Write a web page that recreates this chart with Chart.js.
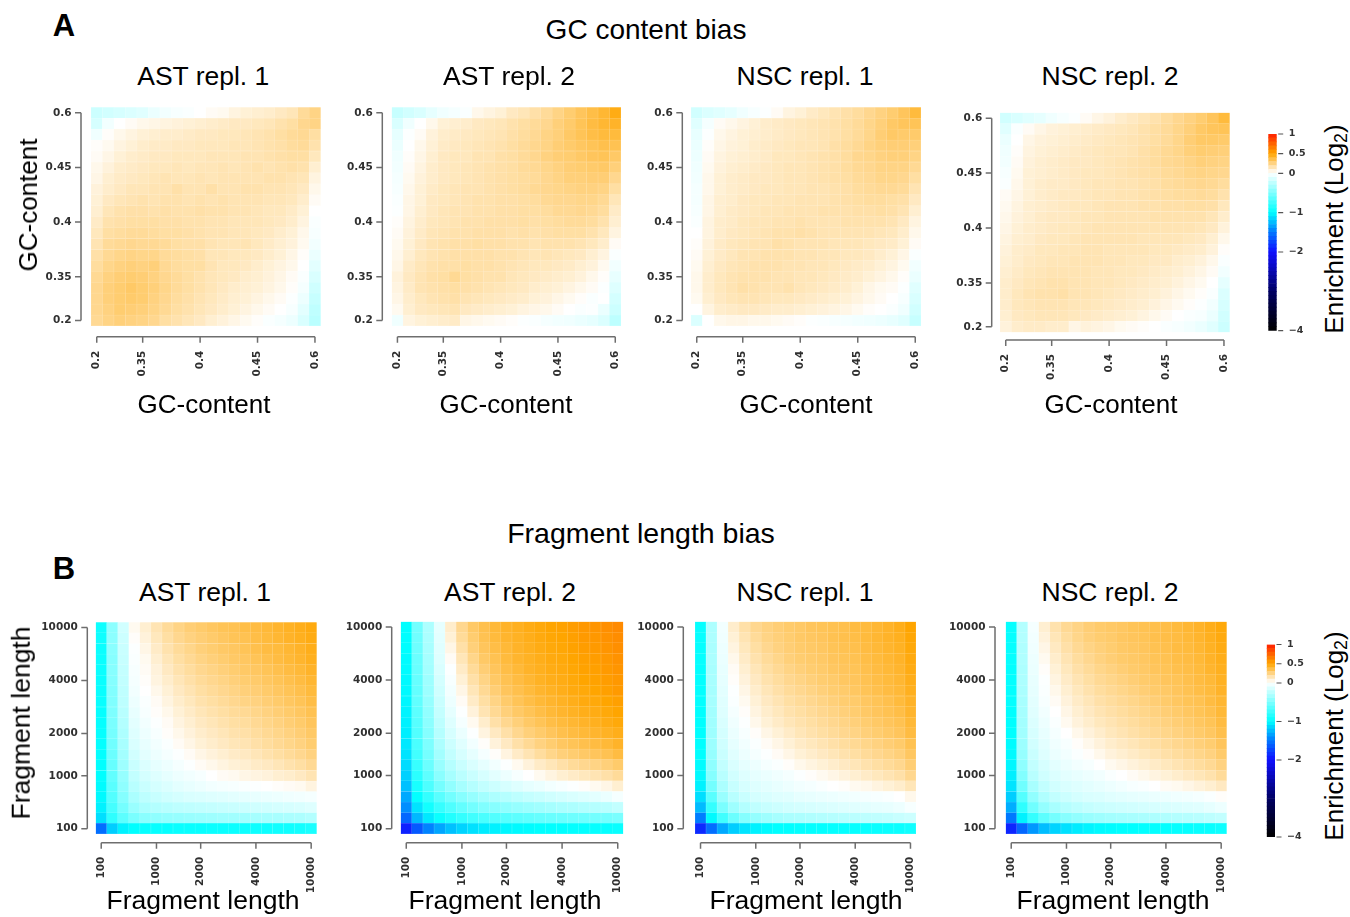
<!DOCTYPE html>
<html><head><meta charset="utf-8">
<script src="https://cdn.jsdelivr.net/npm/chart.js@4.4.1/dist/chart.umd.min.js"></script>
<style>
html,body{margin:0;padding:0;background:#fff;}
#fig{position:relative;width:1350px;height:917px;overflow:hidden;font-family:"Liberation Sans",Arial,Helvetica,sans-serif;color:#000;}
.t{position:absolute;white-space:nowrap;line-height:1;}
.t sub{font-size:68%;vertical-align:-0.25em;line-height:0;}
canvas{position:absolute;}
</style></head><body><div id="fig"></div>
<script>
// ---------------- text ----------------
const sectionTitles = ['GC content bias', 'Fragment length bias'];
const sectionLetters = ['A', 'B'];
const panelTitles = ['AST repl. 1', 'AST repl. 2', 'NSC repl. 1', 'NSC repl. 2'];
const gcAxisTitle = 'GC-content';
const fragAxisTitle = 'Fragment length';
const colorbarTitle = 'Enrichment (Log<sub>2</sub>)';

// ---------------- axes / bins ----------------
const binIndex = [0,1,2,3,4,5,6,7,8,9,10,11,12,13,14,15,16,17,18,19];
const gcTickBins = [0,4,9,14,19];
const gcTickLabels = ['0.2','0.35','0.4','0.45','0.6'];
const fragTickBins = [0,5,9,14,19];
const fragTickLabels = ['100','1000','2000','4000','10000'];
const colorbarTickValues = [-4,-2,-1,0,0.5,1];
const colorbarTickLabels = ['\u22124','\u22122','\u22121','0','0.5','1'];

// ---------------- data: log2 enrichment, rows listed top (highest bin) to bottom ----------------
const gcAst1 = [
[-0.20,-0.18,-0.16,-0.14,-0.12,-0.08,-0.05,-0.03,-0.02,0.00,0.02,0.03,0.06,0.08,0.09,0.10,0.12,0.14,0.20,0.24],
[-0.16,-0.05,0.00,0.02,0.04,0.05,0.06,0.07,0.08,0.09,0.10,0.11,0.12,0.12,0.13,0.14,0.16,0.18,0.22,0.24],
[-0.06,0.01,0.04,0.06,0.08,0.09,0.10,0.10,0.11,0.12,0.12,0.13,0.13,0.14,0.15,0.16,0.18,0.20,0.21,0.18],
[0.01,0.03,0.06,0.08,0.10,0.11,0.11,0.12,0.12,0.13,0.13,0.13,0.14,0.14,0.15,0.16,0.17,0.19,0.20,0.16],
[0.02,0.05,0.08,0.10,0.11,0.12,0.12,0.13,0.13,0.13,0.14,0.14,0.14,0.15,0.15,0.16,0.17,0.18,0.18,0.13],
[0.04,0.07,0.10,0.11,0.12,0.13,0.13,0.14,0.13,0.14,0.14,0.15,0.14,0.15,0.16,0.15,0.16,0.17,0.16,0.09],
[0.05,0.09,0.11,0.12,0.13,0.14,0.15,0.14,0.14,0.15,0.14,0.15,0.15,0.15,0.15,0.16,0.16,0.15,0.14,0.06],
[0.07,0.10,0.12,0.14,0.14,0.15,0.15,0.17,0.15,0.15,0.17,0.15,0.15,0.16,0.16,0.15,0.15,0.14,0.12,0.04],
[0.08,0.12,0.14,0.15,0.16,0.15,0.16,0.16,0.15,0.16,0.15,0.16,0.15,0.15,0.15,0.14,0.14,0.13,0.10,0.02],
[0.09,0.14,0.16,0.17,0.17,0.16,0.17,0.16,0.16,0.17,0.16,0.16,0.15,0.15,0.14,0.13,0.13,0.11,0.08,0.00],
[0.11,0.16,0.17,0.18,0.18,0.18,0.17,0.17,0.16,0.16,0.15,0.15,0.14,0.14,0.14,0.13,0.12,0.10,0.06,-0.02],
[0.13,0.18,0.19,0.20,0.20,0.19,0.18,0.18,0.17,0.16,0.15,0.15,0.14,0.14,0.13,0.12,0.10,0.08,0.04,-0.03],
[0.15,0.20,0.21,0.22,0.21,0.21,0.20,0.18,0.17,0.17,0.15,0.14,0.14,0.15,0.13,0.11,0.09,0.07,0.03,-0.05],
[0.17,0.21,0.23,0.24,0.23,0.23,0.20,0.19,0.18,0.17,0.14,0.14,0.13,0.13,0.12,0.10,0.08,0.05,0.01,-0.08],
[0.19,0.23,0.25,0.26,0.25,0.26,0.21,0.19,0.18,0.18,0.15,0.13,0.13,0.12,0.10,0.08,0.06,0.04,0.00,-0.11],
[0.21,0.25,0.27,0.28,0.27,0.25,0.22,0.20,0.18,0.16,0.14,0.13,0.12,0.10,0.09,0.07,0.05,0.02,-0.02,-0.15],
[0.22,0.26,0.28,0.30,0.28,0.26,0.23,0.20,0.18,0.16,0.14,0.12,0.10,0.09,0.08,0.06,0.04,0.01,-0.04,-0.19],
[0.22,0.26,0.28,0.29,0.28,0.25,0.22,0.19,0.17,0.15,0.13,0.11,0.09,0.08,0.06,0.04,0.02,-0.01,-0.07,-0.22],
[0.22,0.25,0.28,0.27,0.26,0.24,0.21,0.18,0.16,0.14,0.12,0.10,0.08,0.06,0.04,0.02,0.00,-0.03,-0.11,-0.25],
[0.21,0.24,0.26,0.25,0.24,0.22,0.18,0.16,0.14,0.12,0.09,0.07,0.05,0.03,0.01,-0.02,-0.04,-0.07,-0.15,-0.27]
];
const gcAst2 = [
[-0.22,-0.18,-0.15,-0.10,-0.06,-0.04,-0.02,0.04,0.06,0.08,0.12,0.14,0.17,0.20,0.24,0.28,0.32,0.36,0.40,0.46],
[-0.15,-0.06,0.00,0.04,0.08,0.09,0.10,0.12,0.13,0.14,0.16,0.18,0.20,0.22,0.26,0.29,0.33,0.37,0.40,0.42],
[-0.10,-0.01,0.02,0.07,0.10,0.11,0.12,0.13,0.14,0.15,0.17,0.19,0.21,0.24,0.26,0.30,0.33,0.36,0.38,0.38],
[-0.08,0.00,0.04,0.08,0.11,0.12,0.13,0.14,0.15,0.16,0.18,0.20,0.22,0.24,0.27,0.29,0.31,0.33,0.35,0.34],
[-0.06,0.01,0.05,0.09,0.12,0.13,0.13,0.15,0.15,0.17,0.18,0.20,0.22,0.25,0.27,0.28,0.30,0.32,0.33,0.30],
[-0.05,0.02,0.06,0.10,0.12,0.13,0.14,0.15,0.16,0.17,0.18,0.20,0.21,0.23,0.25,0.27,0.28,0.29,0.30,0.26],
[-0.04,0.03,0.07,0.10,0.12,0.13,0.14,0.15,0.16,0.17,0.18,0.19,0.20,0.22,0.24,0.26,0.26,0.27,0.27,0.22],
[-0.03,0.04,0.08,0.11,0.13,0.14,0.15,0.15,0.16,0.17,0.18,0.19,0.21,0.22,0.23,0.24,0.25,0.25,0.24,0.18],
[-0.02,0.05,0.08,0.12,0.13,0.14,0.15,0.16,0.16,0.17,0.17,0.18,0.19,0.21,0.22,0.22,0.23,0.23,0.21,0.14],
[-0.01,0.05,0.09,0.12,0.14,0.15,0.15,0.16,0.16,0.17,0.17,0.18,0.18,0.19,0.21,0.21,0.22,0.21,0.19,0.11],
[0.01,0.06,0.10,0.13,0.14,0.15,0.16,0.16,0.17,0.17,0.17,0.18,0.17,0.18,0.19,0.20,0.20,0.19,0.16,0.09],
[0.02,0.07,0.11,0.14,0.15,0.16,0.16,0.17,0.17,0.17,0.16,0.17,0.16,0.17,0.18,0.18,0.18,0.16,0.13,0.06],
[0.03,0.08,0.12,0.15,0.16,0.17,0.17,0.18,0.17,0.17,0.16,0.16,0.15,0.16,0.16,0.16,0.15,0.13,0.10,0.02],
[0.04,0.09,0.13,0.15,0.16,0.17,0.17,0.17,0.17,0.16,0.16,0.15,0.14,0.15,0.14,0.13,0.12,0.09,0.06,-0.02],
[0.05,0.11,0.14,0.16,0.17,0.17,0.18,0.17,0.17,0.16,0.15,0.14,0.13,0.13,0.12,0.11,0.09,0.07,0.03,-0.05],
[0.07,0.12,0.15,0.17,0.18,0.21,0.18,0.17,0.16,0.16,0.14,0.13,0.12,0.11,0.10,0.09,0.07,0.04,0.01,-0.09],
[0.06,0.11,0.15,0.16,0.17,0.18,0.17,0.16,0.15,0.14,0.13,0.12,0.10,0.09,0.08,0.06,0.04,0.02,-0.01,-0.13],
[0.05,0.10,0.13,0.15,0.16,0.17,0.15,0.14,0.13,0.12,0.11,0.10,0.08,0.07,0.05,0.03,0.01,-0.02,0.00,-0.17],
[0.03,0.09,0.12,0.13,0.14,0.15,0.12,0.11,0.10,0.09,0.08,0.06,0.05,0.04,0.02,0.00,-0.02,-0.01,-0.08,-0.20],
[-0.06,0.06,0.08,0.09,0.10,0.11,0.05,0.04,0.03,0.02,0.01,-0.01,-0.02,-0.04,-0.05,-0.06,-0.08,-0.10,-0.14,-0.26]
];
const gcNsc1 = [
[-0.18,-0.14,-0.12,-0.10,-0.06,-0.03,-0.01,0.02,0.06,0.08,0.11,0.13,0.15,0.17,0.19,0.22,0.25,0.28,0.32,0.38],
[-0.12,-0.04,0.02,0.04,0.06,0.08,0.10,0.11,0.12,0.13,0.14,0.15,0.16,0.18,0.20,0.23,0.26,0.30,0.32,0.33],
[-0.09,-0.01,0.04,0.06,0.08,0.09,0.10,0.11,0.12,0.13,0.14,0.15,0.16,0.18,0.20,0.23,0.27,0.30,0.29,0.29],
[-0.08,0.01,0.05,0.07,0.08,0.10,0.11,0.12,0.13,0.14,0.14,0.15,0.17,0.19,0.21,0.24,0.26,0.27,0.27,0.26],
[-0.07,0.02,0.06,0.08,0.09,0.10,0.11,0.13,0.13,0.14,0.15,0.16,0.17,0.19,0.22,0.23,0.25,0.26,0.26,0.24],
[-0.06,0.03,0.07,0.09,0.10,0.11,0.12,0.13,0.14,0.14,0.15,0.16,0.17,0.19,0.21,0.22,0.24,0.24,0.24,0.21],
[-0.05,0.04,0.08,0.10,0.11,0.12,0.12,0.13,0.14,0.14,0.15,0.16,0.17,0.18,0.20,0.21,0.23,0.23,0.22,0.18],
[-0.04,0.04,0.08,0.10,0.11,0.12,0.13,0.13,0.14,0.14,0.15,0.15,0.16,0.17,0.19,0.20,0.21,0.21,0.20,0.15],
[-0.04,0.05,0.09,0.10,0.12,0.13,0.13,0.14,0.14,0.15,0.15,0.15,0.16,0.17,0.18,0.19,0.19,0.18,0.17,0.12],
[-0.03,0.05,0.09,0.11,0.12,0.13,0.14,0.14,0.15,0.15,0.15,0.16,0.16,0.16,0.17,0.17,0.18,0.17,0.15,0.09],
[-0.02,0.06,0.10,0.11,0.13,0.14,0.14,0.15,0.15,0.16,0.15,0.15,0.15,0.16,0.16,0.16,0.16,0.15,0.12,0.06],
[0.00,0.06,0.10,0.12,0.13,0.14,0.15,0.16,0.16,0.17,0.16,0.15,0.15,0.15,0.15,0.15,0.14,0.13,0.10,0.04],
[0.01,0.07,0.11,0.13,0.14,0.15,0.15,0.17,0.16,0.15,0.15,0.15,0.14,0.14,0.14,0.13,0.12,0.11,0.08,0.02],
[0.02,0.08,0.11,0.13,0.15,0.15,0.16,0.16,0.16,0.15,0.15,0.14,0.14,0.13,0.13,0.12,0.10,0.08,0.05,-0.02],
[0.03,0.09,0.12,0.14,0.15,0.16,0.16,0.16,0.15,0.15,0.14,0.14,0.13,0.12,0.11,0.10,0.08,0.06,0.03,-0.05],
[0.04,0.10,0.13,0.15,0.16,0.16,0.16,0.15,0.15,0.14,0.14,0.13,0.12,0.11,0.10,0.08,0.06,0.04,0.01,-0.08],
[0.04,0.10,0.13,0.15,0.17,0.16,0.15,0.15,0.16,0.14,0.13,0.12,0.11,0.10,0.08,0.05,0.03,0.02,-0.01,-0.12],
[0.03,0.09,0.12,0.14,0.15,0.15,0.14,0.13,0.13,0.12,0.11,0.10,0.09,0.08,0.06,0.04,0.02,0.00,-0.03,-0.15],
[0.00,0.06,0.10,0.11,0.12,0.12,0.11,0.10,0.10,0.09,0.08,0.07,0.06,0.05,0.03,0.01,0.00,-0.02,-0.06,-0.18],
[-0.14,0.00,0.04,0.05,0.05,0.04,0.04,0.03,0.02,0.01,-0.01,-0.02,-0.03,-0.04,-0.05,-0.06,-0.07,-0.09,-0.12,-0.22]
];
const gcNsc2 = [
[-0.18,-0.15,-0.12,-0.10,-0.06,-0.03,-0.01,0.02,0.05,0.07,0.10,0.12,0.14,0.16,0.19,0.22,0.25,0.28,0.32,0.38],
[-0.12,-0.02,0.02,0.05,0.07,0.08,0.09,0.10,0.11,0.12,0.13,0.14,0.16,0.18,0.20,0.23,0.26,0.30,0.32,0.33],
[-0.08,0.00,0.05,0.07,0.08,0.09,0.10,0.11,0.12,0.13,0.14,0.15,0.16,0.18,0.20,0.23,0.27,0.30,0.30,0.29],
[-0.06,0.01,0.06,0.08,0.09,0.10,0.11,0.12,0.13,0.14,0.14,0.15,0.17,0.19,0.21,0.23,0.26,0.28,0.27,0.26],
[-0.05,0.02,0.07,0.09,0.10,0.11,0.12,0.12,0.13,0.14,0.15,0.16,0.17,0.19,0.21,0.22,0.24,0.26,0.25,0.24],
[-0.03,0.03,0.08,0.09,0.10,0.11,0.12,0.13,0.13,0.14,0.15,0.16,0.17,0.18,0.20,0.21,0.23,0.24,0.23,0.22],
[-0.02,0.04,0.08,0.10,0.11,0.11,0.12,0.13,0.14,0.14,0.15,0.15,0.16,0.17,0.19,0.20,0.21,0.22,0.21,0.19],
[0.02,0.05,0.08,0.10,0.11,0.12,0.12,0.13,0.14,0.14,0.15,0.15,0.16,0.17,0.18,0.19,0.19,0.20,0.19,0.16],
[0.03,0.06,0.09,0.10,0.11,0.12,0.13,0.13,0.14,0.15,0.15,0.15,0.16,0.16,0.17,0.17,0.18,0.18,0.17,0.13],
[0.04,0.07,0.09,0.11,0.12,0.12,0.13,0.14,0.14,0.15,0.15,0.15,0.15,0.16,0.16,0.16,0.16,0.16,0.14,0.10],
[0.05,0.08,0.10,0.11,0.12,0.13,0.13,0.14,0.15,0.15,0.15,0.15,0.15,0.15,0.15,0.15,0.15,0.14,0.12,0.07],
[0.06,0.09,0.10,0.12,0.13,0.13,0.14,0.15,0.15,0.15,0.15,0.15,0.14,0.14,0.14,0.14,0.13,0.12,0.09,0.04],
[0.07,0.10,0.11,0.13,0.13,0.14,0.14,0.15,0.15,0.14,0.14,0.14,0.14,0.13,0.13,0.12,0.11,0.10,0.07,0.01],
[0.08,0.10,0.12,0.13,0.14,0.14,0.15,0.15,0.15,0.14,0.14,0.13,0.13,0.12,0.12,0.10,0.09,0.07,0.04,-0.02],
[0.09,0.11,0.13,0.14,0.15,0.15,0.15,0.15,0.14,0.14,0.13,0.13,0.12,0.11,0.10,0.09,0.07,0.05,0.02,-0.05],
[0.10,0.12,0.14,0.15,0.16,0.16,0.15,0.15,0.14,0.14,0.13,0.12,0.11,0.10,0.09,0.07,0.05,0.03,0.00,-0.10],
[0.10,0.13,0.15,0.16,0.16,0.17,0.15,0.15,0.14,0.13,0.12,0.11,0.10,0.09,0.07,0.05,0.03,0.01,-0.02,-0.14],
[0.10,0.13,0.14,0.15,0.15,0.15,0.14,0.14,0.13,0.12,0.11,0.10,0.09,0.07,0.05,0.03,0.01,-0.01,-0.05,-0.16],
[0.09,0.12,0.13,0.14,0.14,0.14,0.13,0.12,0.11,0.10,0.09,0.08,0.06,0.04,0.02,0.00,-0.02,-0.03,-0.08,-0.18],
[0.07,0.10,0.11,0.11,0.10,0.10,0.05,0.07,0.06,0.05,0.03,0.02,0.01,0.00,-0.02,-0.03,-0.05,-0.08,-0.12,-0.20]
];
const fragAst1 = [
[-0.95,-0.45,-0.18,0.03,0.09,0.15,0.20,0.24,0.27,0.29,0.31,0.33,0.34,0.36,0.37,0.39,0.41,0.43,0.45,0.47],
[-0.95,-0.45,-0.20,0.01,0.07,0.13,0.18,0.22,0.25,0.27,0.29,0.31,0.33,0.34,0.36,0.38,0.40,0.42,0.44,0.46],
[-0.96,-0.46,-0.21,-0.01,0.05,0.11,0.16,0.20,0.23,0.26,0.28,0.30,0.31,0.33,0.35,0.37,0.38,0.40,0.42,0.45],
[-0.96,-0.47,-0.22,-0.02,0.03,0.09,0.14,0.18,0.21,0.24,0.26,0.28,0.30,0.31,0.33,0.35,0.37,0.39,0.41,0.44],
[-0.96,-0.47,-0.23,-0.03,0.02,0.07,0.12,0.16,0.19,0.22,0.24,0.26,0.28,0.30,0.31,0.33,0.35,0.37,0.39,0.42],
[-0.97,-0.48,-0.24,-0.04,0.01,0.06,0.10,0.14,0.17,0.20,0.22,0.24,0.26,0.28,0.29,0.31,0.33,0.35,0.37,0.40],
[-0.97,-0.49,-0.25,-0.05,0.00,0.04,0.08,0.12,0.15,0.18,0.20,0.22,0.24,0.26,0.27,0.29,0.31,0.33,0.35,0.38],
[-0.97,-0.50,-0.26,-0.07,-0.02,0.02,0.06,0.10,0.13,0.16,0.18,0.20,0.22,0.24,0.25,0.27,0.29,0.31,0.33,0.36],
[-0.98,-0.51,-0.28,-0.09,-0.03,0.01,0.04,0.08,0.11,0.14,0.16,0.18,0.20,0.21,0.23,0.25,0.27,0.29,0.31,0.34],
[-0.98,-0.52,-0.30,-0.11,-0.05,-0.01,0.02,0.06,0.09,0.12,0.14,0.16,0.18,0.19,0.21,0.23,0.25,0.27,0.29,0.32],
[-0.98,-0.54,-0.32,-0.13,-0.07,-0.03,0.01,0.04,0.07,0.10,0.12,0.14,0.16,0.17,0.19,0.21,0.23,0.25,0.27,0.30],
[-0.99,-0.56,-0.34,-0.15,-0.09,-0.05,-0.02,0.02,0.05,0.08,0.10,0.12,0.14,0.15,0.17,0.19,0.21,0.23,0.25,0.28],
[-0.99,-0.58,-0.36,-0.18,-0.11,-0.07,-0.04,-0.01,0.02,0.05,0.07,0.09,0.11,0.12,0.14,0.16,0.18,0.20,0.22,0.25],
[-1.00,-0.60,-0.38,-0.21,-0.14,-0.10,-0.07,-0.04,-0.01,0.02,0.04,0.06,0.08,0.09,0.11,0.12,0.14,0.16,0.18,0.21],
[-1.00,-0.62,-0.41,-0.24,-0.17,-0.13,-0.10,-0.07,-0.05,-0.03,0.00,0.02,0.03,0.05,0.06,0.07,0.09,0.10,0.12,0.15],
[-1.01,-0.65,-0.44,-0.28,-0.21,-0.17,-0.14,-0.11,-0.09,-0.07,-0.05,-0.04,-0.03,-0.02,-0.01,0.00,0.01,0.02,0.03,0.06],
[-1.02,-0.68,-0.48,-0.33,-0.26,-0.22,-0.19,-0.17,-0.15,-0.14,-0.13,-0.12,-0.11,-0.10,-0.09,-0.08,-0.07,-0.06,-0.05,-0.04],
[-1.05,-0.73,-0.54,-0.40,-0.33,-0.30,-0.28,-0.26,-0.25,-0.24,-0.23,-0.22,-0.21,-0.20,-0.19,-0.18,-0.17,-0.16,-0.15,-0.13],
[-1.12,-0.82,-0.64,-0.52,-0.46,-0.44,-0.42,-0.41,-0.40,-0.39,-0.38,-0.37,-0.37,-0.36,-0.35,-0.34,-0.34,-0.33,-0.32,-0.30],
[-1.55,-1.18,-1.05,-1.00,-0.98,-0.98,-0.98,-0.97,-0.97,-0.97,-0.96,-0.96,-0.96,-0.95,-0.95,-0.95,-0.94,-0.94,-0.93,-0.90]
];
const fragAst2 = [
[-1.00,-0.55,-0.32,-0.10,0.10,0.22,0.30,0.35,0.39,0.42,0.44,0.46,0.48,0.50,0.51,0.53,0.55,0.56,0.58,0.60],
[-1.00,-0.56,-0.33,-0.11,0.08,0.20,0.28,0.34,0.38,0.41,0.43,0.45,0.47,0.49,0.50,0.52,0.54,0.55,0.57,0.59],
[-1.00,-0.57,-0.34,-0.12,0.05,0.17,0.26,0.32,0.36,0.39,0.42,0.44,0.46,0.48,0.49,0.51,0.53,0.54,0.56,0.58],
[-1.01,-0.58,-0.35,-0.13,0.02,0.14,0.23,0.30,0.34,0.38,0.41,0.43,0.45,0.47,0.48,0.50,0.52,0.53,0.55,0.57],
[-1.01,-0.59,-0.36,-0.15,-0.01,0.11,0.20,0.27,0.32,0.36,0.39,0.42,0.44,0.46,0.47,0.49,0.51,0.52,0.54,0.56],
[-1.02,-0.60,-0.38,-0.17,-0.03,0.08,0.17,0.24,0.30,0.34,0.37,0.40,0.43,0.45,0.46,0.48,0.50,0.51,0.53,0.55],
[-1.02,-0.61,-0.39,-0.19,-0.05,0.05,0.14,0.21,0.27,0.32,0.35,0.38,0.41,0.43,0.45,0.47,0.48,0.50,0.52,0.54],
[-1.03,-0.62,-0.41,-0.21,-0.07,0.02,0.11,0.18,0.24,0.29,0.33,0.36,0.39,0.41,0.43,0.45,0.47,0.48,0.50,0.52],
[-1.04,-0.64,-0.43,-0.23,-0.10,-0.01,0.07,0.15,0.21,0.26,0.30,0.33,0.36,0.39,0.41,0.43,0.45,0.46,0.48,0.50],
[-1.05,-0.66,-0.45,-0.26,-0.13,-0.04,0.03,0.10,0.17,0.22,0.26,0.30,0.33,0.36,0.38,0.40,0.42,0.44,0.46,0.48],
[-1.06,-0.68,-0.48,-0.29,-0.16,-0.08,-0.01,0.06,0.12,0.17,0.22,0.26,0.29,0.32,0.35,0.37,0.39,0.41,0.43,0.45],
[-1.08,-0.71,-0.51,-0.32,-0.20,-0.12,-0.05,0.01,0.07,0.12,0.17,0.21,0.25,0.28,0.31,0.33,0.35,0.37,0.39,0.42],
[-1.10,-0.74,-0.54,-0.36,-0.24,-0.16,-0.10,-0.04,0.01,0.06,0.11,0.15,0.19,0.23,0.26,0.28,0.30,0.32,0.34,0.37],
[-1.13,-0.78,-0.58,-0.40,-0.29,-0.21,-0.15,-0.10,-0.05,-0.01,0.03,0.07,0.11,0.14,0.17,0.20,0.22,0.24,0.26,0.29],
[-1.17,-0.83,-0.63,-0.46,-0.35,-0.27,-0.21,-0.16,-0.11,-0.07,-0.03,0.00,0.03,0.06,0.09,0.11,0.13,0.15,0.17,0.20],
[-1.23,-0.90,-0.70,-0.54,-0.43,-0.35,-0.29,-0.24,-0.20,-0.16,-0.13,-0.10,-0.08,-0.05,-0.03,-0.01,0.01,0.03,0.05,0.09],
[-1.32,-0.99,-0.80,-0.65,-0.55,-0.47,-0.41,-0.36,-0.32,-0.29,-0.26,-0.23,-0.21,-0.19,-0.17,-0.15,-0.13,-0.11,-0.08,-0.04],
[-1.42,-1.10,-0.93,-0.79,-0.69,-0.61,-0.55,-0.50,-0.47,-0.44,-0.41,-0.39,-0.37,-0.35,-0.33,-0.32,-0.30,-0.29,-0.27,-0.24],
[-1.58,-1.26,-1.08,-0.96,-0.87,-0.80,-0.75,-0.71,-0.68,-0.66,-0.64,-0.62,-0.60,-0.59,-0.58,-0.57,-0.56,-0.55,-0.54,-0.52],
[-1.92,-1.65,-1.46,-1.33,-1.23,-1.16,-1.11,-1.07,-1.05,-1.03,-1.02,-1.01,-1.00,-1.00,-1.00,-0.99,-0.99,-0.98,-0.98,-0.97]
];
const fragNsc1 = [
[-0.98,-0.32,-0.05,0.10,0.17,0.22,0.25,0.27,0.29,0.30,0.32,0.33,0.34,0.35,0.37,0.38,0.40,0.42,0.45,0.50],
[-0.98,-0.32,-0.06,0.08,0.15,0.20,0.24,0.26,0.28,0.30,0.31,0.32,0.34,0.35,0.36,0.38,0.40,0.42,0.44,0.49],
[-0.98,-0.33,-0.07,0.06,0.13,0.18,0.22,0.25,0.27,0.29,0.30,0.31,0.33,0.34,0.35,0.37,0.39,0.41,0.43,0.48],
[-0.98,-0.33,-0.08,0.04,0.11,0.16,0.20,0.23,0.26,0.28,0.29,0.30,0.32,0.33,0.34,0.36,0.38,0.40,0.42,0.47],
[-0.99,-0.34,-0.09,0.02,0.09,0.14,0.18,0.21,0.24,0.26,0.28,0.29,0.31,0.32,0.33,0.35,0.37,0.39,0.41,0.46],
[-0.99,-0.34,-0.10,0.01,0.07,0.12,0.16,0.19,0.22,0.24,0.26,0.28,0.29,0.31,0.32,0.34,0.36,0.38,0.40,0.45],
[-0.99,-0.35,-0.11,-0.01,0.05,0.10,0.14,0.17,0.20,0.22,0.24,0.26,0.28,0.29,0.31,0.33,0.35,0.37,0.39,0.44],
[-0.99,-0.35,-0.12,-0.02,0.03,0.08,0.12,0.15,0.18,0.20,0.22,0.24,0.26,0.28,0.29,0.31,0.33,0.35,0.38,0.42],
[-1.00,-0.36,-0.13,-0.04,0.01,0.06,0.10,0.13,0.16,0.18,0.20,0.22,0.24,0.26,0.28,0.30,0.32,0.34,0.36,0.41],
[-1.00,-0.37,-0.15,-0.06,-0.01,0.04,0.08,0.11,0.14,0.16,0.18,0.20,0.22,0.24,0.26,0.28,0.30,0.32,0.34,0.39],
[-1.00,-0.38,-0.17,-0.08,-0.03,0.01,0.05,0.08,0.11,0.14,0.16,0.18,0.20,0.22,0.24,0.26,0.28,0.30,0.32,0.37],
[-1.00,-0.39,-0.19,-0.10,-0.05,-0.02,0.02,0.05,0.08,0.11,0.13,0.15,0.17,0.19,0.21,0.23,0.25,0.27,0.29,0.34],
[-1.00,-0.41,-0.21,-0.12,-0.07,-0.04,-0.01,0.02,0.05,0.08,0.10,0.12,0.14,0.16,0.18,0.20,0.22,0.24,0.26,0.31],
[-1.01,-0.44,-0.24,-0.15,-0.10,-0.07,-0.04,-0.02,0.01,0.04,0.06,0.08,0.10,0.12,0.14,0.16,0.18,0.20,0.22,0.27],
[-1.02,-0.48,-0.28,-0.18,-0.13,-0.10,-0.08,-0.06,-0.04,-0.01,0.01,0.03,0.05,0.07,0.09,0.11,0.13,0.15,0.17,0.22],
[-1.05,-0.55,-0.33,-0.22,-0.16,-0.13,-0.11,-0.09,-0.07,-0.05,-0.04,-0.02,0.00,0.01,0.03,0.04,0.06,0.08,0.10,0.14],
[-1.12,-0.65,-0.40,-0.28,-0.21,-0.17,-0.15,-0.13,-0.12,-0.10,-0.09,-0.08,-0.07,-0.06,-0.05,-0.04,-0.03,-0.02,0.00,0.04],
[-1.25,-0.80,-0.52,-0.38,-0.30,-0.25,-0.22,-0.20,-0.18,-0.17,-0.16,-0.15,-0.14,-0.13,-0.12,-0.11,-0.10,-0.09,-0.07,-0.03],
[-1.48,-1.02,-0.75,-0.58,-0.48,-0.42,-0.38,-0.35,-0.33,-0.32,-0.31,-0.30,-0.29,-0.28,-0.27,-0.26,-0.25,-0.24,-0.22,-0.20],
[-1.88,-1.55,-1.32,-1.18,-1.10,-1.05,-1.02,-1.00,-1.00,-0.99,-0.99,-0.99,-0.98,-0.98,-0.98,-0.97,-0.97,-0.96,-0.96,-0.94]
];
const fragNsc2 = [
[-0.98,-0.30,-0.04,0.09,0.16,0.21,0.24,0.27,0.29,0.30,0.31,0.33,0.34,0.35,0.36,0.38,0.40,0.42,0.45,0.48],
[-0.98,-0.30,-0.05,0.07,0.14,0.19,0.23,0.26,0.28,0.29,0.31,0.32,0.33,0.35,0.36,0.37,0.39,0.41,0.44,0.47],
[-0.98,-0.31,-0.06,0.05,0.12,0.17,0.21,0.24,0.26,0.28,0.30,0.31,0.32,0.34,0.35,0.37,0.38,0.40,0.43,0.46],
[-0.98,-0.31,-0.07,0.03,0.10,0.15,0.19,0.22,0.25,0.27,0.29,0.30,0.31,0.33,0.34,0.36,0.37,0.39,0.42,0.45],
[-0.99,-0.32,-0.08,0.01,0.08,0.13,0.17,0.20,0.23,0.25,0.27,0.29,0.30,0.32,0.33,0.35,0.36,0.38,0.41,0.44],
[-0.99,-0.32,-0.09,-0.01,0.06,0.11,0.15,0.18,0.21,0.23,0.25,0.27,0.29,0.30,0.32,0.33,0.35,0.37,0.39,0.43],
[-0.99,-0.33,-0.10,-0.02,0.04,0.09,0.13,0.16,0.19,0.21,0.23,0.25,0.27,0.29,0.30,0.32,0.34,0.36,0.38,0.42],
[-0.99,-0.34,-0.11,-0.03,0.02,0.07,0.11,0.14,0.17,0.19,0.21,0.23,0.25,0.27,0.29,0.31,0.33,0.34,0.37,0.40],
[-1.00,-0.35,-0.12,-0.05,0.00,0.05,0.09,0.12,0.15,0.17,0.19,0.21,0.23,0.25,0.27,0.29,0.31,0.33,0.35,0.39],
[-1.00,-0.36,-0.14,-0.07,-0.02,0.03,0.07,0.10,0.13,0.15,0.17,0.19,0.21,0.23,0.25,0.27,0.29,0.31,0.33,0.37],
[-1.00,-0.37,-0.16,-0.09,-0.04,0.00,0.04,0.07,0.10,0.13,0.15,0.17,0.19,0.21,0.23,0.25,0.27,0.29,0.31,0.35],
[-1.01,-0.39,-0.18,-0.11,-0.06,-0.03,0.01,0.04,0.07,0.10,0.12,0.14,0.16,0.18,0.20,0.22,0.24,0.26,0.28,0.32],
[-1.02,-0.41,-0.21,-0.13,-0.08,-0.05,-0.02,0.01,0.04,0.07,0.09,0.11,0.13,0.15,0.17,0.19,0.21,0.23,0.25,0.29],
[-1.03,-0.44,-0.24,-0.16,-0.11,-0.08,-0.05,-0.03,0.00,0.03,0.05,0.07,0.09,0.11,0.13,0.15,0.17,0.19,0.21,0.25],
[-1.06,-0.49,-0.28,-0.19,-0.14,-0.11,-0.09,-0.07,-0.05,-0.02,0.00,0.02,0.04,0.06,0.08,0.10,0.12,0.14,0.16,0.20],
[-1.10,-0.56,-0.34,-0.24,-0.18,-0.15,-0.13,-0.11,-0.09,-0.07,-0.05,-0.03,-0.02,0.00,0.02,0.03,0.05,0.07,0.09,0.12],
[-1.18,-0.67,-0.43,-0.31,-0.24,-0.20,-0.17,-0.15,-0.14,-0.12,-0.11,-0.10,-0.09,-0.08,-0.07,-0.06,-0.05,-0.04,-0.02,0.01],
[-1.30,-0.82,-0.56,-0.42,-0.34,-0.29,-0.26,-0.23,-0.21,-0.20,-0.19,-0.18,-0.17,-0.16,-0.15,-0.14,-0.13,-0.12,-0.10,-0.07],
[-1.50,-1.05,-0.80,-0.64,-0.54,-0.47,-0.43,-0.40,-0.38,-0.36,-0.35,-0.34,-0.33,-0.32,-0.31,-0.30,-0.29,-0.28,-0.26,-0.24],
[-1.90,-1.58,-1.38,-1.24,-1.16,-1.11,-1.07,-1.04,-1.02,-1.01,-1.00,-1.00,-0.99,-0.99,-0.99,-0.98,-0.98,-0.97,-0.97,-0.95]
];

// ---------------- colour scale (log2 enrichment -> colour) ----------------
const colorStops = [
  [-4, [0,0,0]], [-3, [0,0,100]], [-2, [16,16,255]], [-1.5, [0,120,255]],
  [-1, [0,255,255]], [0, [255,255,255]], [0.5, [255,165,0]], [1, [255,30,0]]
];
function rgbOf(v){
  const s = colorStops;
  if (v <= s[0][0]) return s[0][1].slice();
  for (let i = 1; i < s.length; i++) {
    if (v <= s[i][0]) {
      const t = (v - s[i-1][0]) / (s[i][0] - s[i-1][0]);
      return s[i-1][1].map((c, k) => c + (s[i][1][k] - c) * t);
    }
  }
  return s[s.length-1][1].slice();
}
function colorFor(v){ const c = rgbOf(v); return `rgb(${c.map(Math.round).join(',')})`; }
function edgeFor(v){ const c = rgbOf(v).map(x => x + (255 - x) * 0.28); return `rgb(${c.map(Math.round).join(',')})`; }

// ---------------- layout ----------------
const fig = document.getElementById('fig');
const TICK_FONT = {family: 'DejaVu Sans', size: 10.5, weight: 'bold'};
const TICK_COLOR = '#303030';
const noScalePad = s => { s.paddingLeft = 0; s.paddingRight = 0; s.paddingTop = 0; s.paddingBottom = 0; };

const rAxisPlugin = {
  id: 'rAxis',
  afterDraw(chart, args, o) {
    const {ctx, chartArea: a, scales: {x, y}} = chart;
    ctx.save();
    ctx.strokeStyle = o.color; ctx.lineWidth = o.width;
    ctx.beginPath();
    const ys = y.ticks.map((t, i) => y.getPixelForTick(i));
    const xl = a.left - o.gapY;
    ctx.moveTo(xl, Math.min(...ys)); ctx.lineTo(xl, Math.max(...ys));
    ys.forEach(p => { ctx.moveTo(xl, p); ctx.lineTo(xl - o.tickLen, p); });
    const xs = x.ticks.map((t, i) => x.getPixelForTick(i));
    const yl = a.bottom + o.gapX;
    ctx.moveTo(Math.min(...xs), yl); ctx.lineTo(Math.max(...xs), yl);
    xs.forEach(p => { ctx.moveTo(p, yl); ctx.lineTo(p, yl + o.tickLen); });
    ctx.stroke();
    ctx.restore();
  }
};

function makeCanvas(cl, ct, cw, ch){
  const cv = document.createElement('canvas');
  cv.width = cw; cv.height = ch;
  cv.style.left = cl + 'px'; cv.style.top = ct + 'px';
  cv.style.width = cw + 'px'; cv.style.height = ch + 'px';
  fig.appendChild(cv);
  return cv;
}

function makeHeatmap(matrix, tickBins, tickLabels, g){
  const yW = 70, xH = 72, padT = 8, padR = 8;
  const cl = Math.floor(g.L) - yW, ct = Math.floor(g.T) - padT;
  const cw = Math.ceil(g.R) + padR - cl, ch = Math.ceil(g.B) + xH - ct;
  const cv = makeCanvas(cl, ct, cw, ch);
  const n = matrix.length;
  const datasets = [];
  for (let j = 0; j < n; j++) {
    const row = matrix[n - 1 - j];
    datasets.push({
      data: row.map(() => 1),
      backgroundColor: row.map(colorFor),
      borderColor: row.map(edgeFor),
      borderWidth: 0.5, borderSkipped: false,
      stack: 'cells', barPercentage: 1, categoryPercentage: 1
    });
  }
  const lab = v => { const k = tickBins.indexOf(v); return k >= 0 ? tickLabels[k] : ''; };
  new Chart(cv, {
    type: 'bar',
    data: {labels: binIndex, datasets},
    options: {
      responsive: false, animation: false, devicePixelRatio: 1,
      events: [],
      layout: {padding: {left: g.L - Math.floor(g.L), top: g.T - ct, right: cw - (g.R - cl), bottom: ch - xH - (g.B - ct)}},
      plugins: {legend: {display: false}, tooltip: {enabled: false},
        rAxis: {gapX: g.gapX, gapY: g.gapY, tickLen: 6, color: '#6e6e6e', width: 1.5}},
      scales: {
        x: {
          type: 'category', stacked: true, offset: true,
          grid: {display: false, drawTicks: false}, border: {display: false},
          ticks: {autoSkip: false, minRotation: 90, maxRotation: 90, padding: g.xPad,
                  font: TICK_FONT, color: TICK_COLOR, callback: v => lab(v)},
          afterBuildTicks: s => { s.ticks = s.ticks.filter(t => tickBins.includes(t.value)); },
          afterFit: s => { s.height = xH; noScalePad(s); }
        },
        y: {
          type: 'linear', stacked: true, min: 0, max: n,
          grid: {display: false, drawTicks: false}, border: {display: false},
          ticks: {autoSkip: false, padding: g.yPad, font: TICK_FONT, color: TICK_COLOR,
                  callback: v => lab(Math.floor(v))},
          afterBuildTicks: s => { s.ticks = tickBins.map(b => ({value: b + 0.5})); },
          afterFit: s => { s.width = yW; noScalePad(s); }
        }
      }
    },
    plugins: [rAxisPlugin]
  });
}

const cbTickPlugin = {
  id: 'cbTicks',
  afterDraw(chart, args, o) {
    const {ctx, chartArea: a, scales: {y}} = chart;
    ctx.save(); ctx.strokeStyle = '#555'; ctx.lineWidth = 1.2;
    ctx.beginPath();
    y.ticks.forEach((t, i) => { const p = y.getPixelForTick(i); ctx.moveTo(a.right + 1.5, p); ctx.lineTo(a.right + 6.5, p); });
    ctx.stroke(); ctx.restore();
  }
};

function makeColorbar(g){
  const yW = 40, padT = 10, padB = 10;
  const cl = Math.floor(g.L), ct = Math.floor(g.T) - padT;
  const cw = Math.ceil(g.R) - cl + yW + 2, ch = Math.ceil(g.B) + padB - ct;
  const cv = makeCanvas(cl, ct, cw, ch);
  const lo = colorbarTickValues[0], hi = colorbarTickValues[colorbarTickValues.length - 1];
  const nb = 50, datasets = [];
  for (let k = 0; k < nb; k++) {
    const a = lo + (hi - lo) * k / nb, b = lo + (hi - lo) * (k + 1) / nb;
    datasets.push({data: [[a, b]], backgroundColor: colorFor((a + b) / 2), borderWidth: 0,
                   grouped: false, barPercentage: 1, categoryPercentage: 1});
  }
  new Chart(cv, {
    type: 'bar',
    data: {labels: ['scale'], datasets},
    options: {
      responsive: false, animation: false, devicePixelRatio: 1, events: [],
      layout: {padding: {left: g.L - cl, right: cw - yW - (g.R - cl), top: g.T - ct, bottom: ch - (g.B - ct)}},
      plugins: {legend: {display: false}, tooltip: {enabled: false}},
      scales: {
        x: {display: false, offset: true},
        y: {
          type: 'linear', position: 'right', min: lo, max: hi,
          grid: {display: false, drawTicks: false}, border: {display: false},
          ticks: {padding: 12, font: {family: 'DejaVu Sans', size: 9.5, weight: 'bold'}, color: '#333',
                  callback: v => { const k = colorbarTickValues.indexOf(v); return k >= 0 ? colorbarTickLabels[k] : ''; }},
          afterBuildTicks: s => { s.ticks = colorbarTickValues.map(v => ({value: v})); },
          afterFit: s => { s.width = yW; noScalePad(s); }
        }
      }
    },
    plugins: [cbTickPlugin]
  });
}

function addText(html, cx, cy, size, o = {}){
  const d = document.createElement('div');
  d.className = 't'; d.innerHTML = html;
  d.style.left = cx + 'px'; d.style.top = cy + 'px'; d.style.fontSize = size + 'px';
  let tf = 'translate(-50%,-50%)';
  if (o.rot) tf += ' rotate(-90deg)';
  if (o.sx) tf += ` scaleX(${o.sx})`;
  d.style.transform = tf;
  if (o.bold) d.style.fontWeight = 'bold';
  fig.appendChild(d);
}

// panel geometry (heatmap cell area in page pixels)
const topGeom = [
  {L: 91,    T: 107.3, R: 320.7,  B: 326,   gapY: 10,  gapX: 10.7},
  {L: 391.7, T: 107.3, R: 621,    B: 326,   gapY: 9.4, gapX: 10.7},
  {L: 691,   T: 107.3, R: 921,    B: 326,   gapY: 8.7, gapX: 10.7},
  {L: 1000,  T: 112.7, R: 1229.7, B: 332.3, gapY: 8.3, gapX: 7.7}
];
const botGeom = [
  {L: 95.7,   T: 622.3, R: 316.7,  B: 834, gapY: 8.4,  gapX: 8.7},
  {L: 400.7,  T: 621.7, R: 623.3,  B: 834, gapY: 9,    gapX: 8.7},
  {L: 695,    T: 621.7, R: 916,    B: 834, gapY: 11.7, gapX: 8.7},
  {L: 1005.7, T: 621.7, R: 1226.7, B: 834, gapY: 10.7, gapX: 8.7}
];
[...topGeom, ...botGeom].forEach(g => { g.yPad = g.gapY + 9.5; g.xPad = g.gapX + 14; });

const gcMatrices = [gcAst1, gcAst2, gcNsc1, gcNsc2];
const fragMatrices = [fragAst1, fragAst2, fragNsc1, fragNsc2];
gcMatrices.forEach((m, i) => makeHeatmap(m, gcTickBins, gcTickLabels, topGeom[i]));
fragMatrices.forEach((m, i) => makeHeatmap(m, fragTickBins, fragTickLabels, botGeom[i]));
makeColorbar({L: 1268.3, R: 1276.7, T: 134, B: 330.7});
makeColorbar({L: 1266.7, R: 1275, T: 644.5, B: 837});

// titles and labels
addText(sectionLetters[0], 64, 25, 31, {bold: true});
addText(sectionLetters[1], 64, 568, 31, {bold: true});
addText(sectionTitles[0], 646, 30, 28);
addText(sectionTitles[1], 641, 533, 28.5);
const topTitleX = [203.3, 509, 805, 1110], botTitleX = [205, 510, 805, 1110];
panelTitles.forEach((t, i) => { addText(t, topTitleX[i], 76, 26.5); addText(t, botTitleX[i], 592, 26.5); });
const topAxX = [204, 506, 806, 1111], botAxX = [203, 505, 806, 1113];
topAxX.forEach(x => addText(gcAxisTitle, x, 404, 26));
botAxX.forEach(x => addText(fragAxisTitle, x, 900, 26.5));
addText(gcAxisTitle, 28, 205, 26, {rot: true});
addText(fragAxisTitle, 21, 723, 26.5, {rot: true});
addText(colorbarTitle, 1334, 229, 26, {rot: true});
addText(colorbarTitle, 1334, 736, 26, {rot: true});
</script></body></html>
